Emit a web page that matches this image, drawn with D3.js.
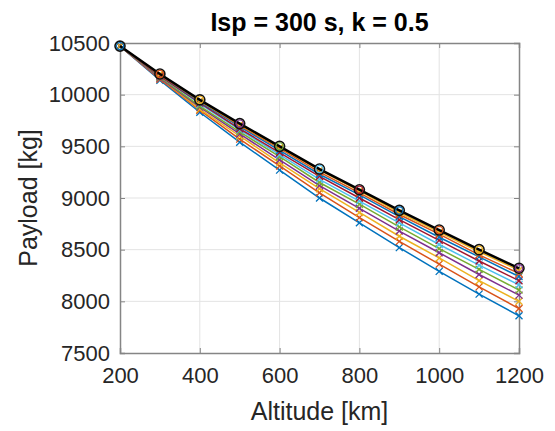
<!DOCTYPE html>
<html>
<head>
<meta charset="utf-8">
<script src="https://cdn.jsdelivr.net/npm/d3@7"></script>
<style>
  body { margin: 0; background: #fff; }
  text { font-family: "Liberation Sans", Arial, sans-serif; fill: #262626; }
</style>
</head>
<body>
<script>
var altitudes = [200, 300, 400, 500, 600, 700, 800, 900, 1000, 1100, 1200];

// colored curves, bottom to top
var seriesValues = [
  [10470, 10140, 9830, 9540, 9270, 9000, 8760, 8520, 8290, 8070, 7860],
  [10470, 10150, 9850, 9570, 9310, 9050, 8810, 8580, 8360, 8140, 7930],
  [10470, 10160, 9860, 9600, 9340, 9090, 8860, 8630, 8420, 8200, 8000],
  [10470, 10160, 9880, 9620, 9370, 9120, 8900, 8680, 8470, 8260, 8060],
  [10470, 10170, 9890, 9640, 9400, 9150, 8940, 8720, 8510, 8310, 8110],
  [10470, 10180, 9910, 9660, 9420, 9180, 8970, 8760, 8550, 8350, 8160],
  [10470, 10180, 9920, 9670, 9440, 9210, 9000, 8790, 8590, 8390, 8200],
  [10470, 10190, 9930, 9690, 9460, 9230, 9030, 8820, 8620, 8430, 8240],
  [10470, 10190, 9940, 9700, 9480, 9250, 9050, 8840, 8650, 8450, 8270],
  [10470, 10200, 9940, 9710, 9490, 9270, 9070, 8860, 8670, 8480, 8300]
];

// black envelope with circle markers
var blackValues = [10470, 10200, 9950, 9720, 9500, 9280, 9080, 8880, 8690, 8500, 8320];

var colorOrder = ['#0072BD', '#D95319', '#EDB120', '#7E2F8E', '#77AC30', '#4DBEEE', '#A2142F'];

var xTicks = [200, 400, 600, 800, 1000, 1200];
var yTicks = [7500, 8000, 8500, 9000, 9500, 10000, 10500];

var titleText = 'Isp = 300 s, k = 0.5';
var xLabel = 'Altitude [km]';
var yLabel = 'Payload [kg]';

var width = 555, height = 431;
var margin = {left: 120, right: 36, top: 43, bottom: 78};

var svg = d3.select('body').append('svg')
  .attr('width', width)
  .attr('height', height);

var x = d3.scaleLinear().domain([200, 1200]).range([margin.left, width - margin.right]);
var y = d3.scaleLinear().domain([7500, 10500]).range([height - margin.bottom, margin.top]);

// grid
svg.append('g').selectAll('line').data(xTicks.slice(1, -1))
  .enter().append('line')
    .attr('x1', function(d){return x(d);})
    .attr('x2', function(d){return x(d);})
    .attr('y1', y(7500))
    .attr('y2', y(10500))
    .style('stroke', '#e3e3e3')
    .style('stroke-width', 1);

svg.append('g').selectAll('line').data(yTicks.slice(1, -1))
  .enter().append('line')
    .attr('x1', x(200))
    .attr('x2', x(1200))
    .attr('y1', function(d){return y(d);})
    .attr('y2', function(d){return y(d);})
    .style('stroke', '#e3e3e3')
    .style('stroke-width', 1);

// axes (ticks inside, MATLAB style)
var xAxis = svg.append('g')
  .attr('transform', 'translate(0,' + y(7500) + ')')
  .call(d3.axisBottom(x).tickValues(xTicks).tickSize(-5).tickPadding(14).tickFormat(d3.format('d')));
var xAxisTop = svg.append('g')
  .attr('transform', 'translate(0,' + y(10500) + ')')
  .call(d3.axisTop(x).tickValues(xTicks).tickSize(-5).tickFormat(''));
var yAxis = svg.append('g')
  .attr('transform', 'translate(' + x(200) + ',0)')
  .call(d3.axisLeft(y).tickValues(yTicks).tickSize(-5).tickPadding(10).tickFormat(d3.format('d')));
var yAxisRight = svg.append('g')
  .attr('transform', 'translate(' + x(1200) + ',0)')
  .call(d3.axisRight(y).tickValues(yTicks).tickSize(-5).tickFormat(''));

[xAxis, xAxisTop, yAxis, yAxisRight].forEach(function(a){
  a.select('.domain').style('stroke', '#858585').style('stroke-width', 1.5);
  a.selectAll('.tick line').style('stroke', '#858585').style('stroke-width', 1);
  a.selectAll('.tick text').style('font-size', '22px').style('fill', '#262626')
    .style('font-family', '"Liberation Sans", Arial, sans-serif');
});
xAxis.selectAll('.tick text').attr('dy', '0.71em');

var line = d3.line()
  .x(function(d, i){return x(altitudes[i]);})
  .y(function(d){return y(d);});

// colored curves with x markers
seriesValues.forEach(function(vals, s){
  var c = colorOrder[s % colorOrder.length];
  svg.append('path')
    .datum(vals)
    .attr('d', line)
    .style('fill', 'none')
    .style('stroke', c)
    .style('stroke-width', 1.5);
  svg.append('g').selectAll('path').data(vals)
    .enter().append('path')
      .attr('d', function(d, i){
        var cx = x(altitudes[i]), cy = y(d), r = 3.5;
        return 'M' + (cx - r) + ',' + (cy - r) + 'L' + (cx + r) + ',' + (cy + r) +
               'M' + (cx - r) + ',' + (cy + r) + 'L' + (cx + r) + ',' + (cy - r);
      })
      .style('stroke', c)
      .style('stroke-width', 1.3)
      .style('fill', 'none');
});

// black envelope
svg.append('path')
  .datum(blackValues)
  .attr('d', line)
  .style('fill', 'none')
  .style('stroke', '#000')
  .style('stroke-width', 2.5);

svg.append('g').selectAll('circle').data(blackValues)
  .enter().append('circle')
    .attr('cx', function(d, i){return x(altitudes[i]);})
    .attr('cy', function(d){return y(d);})
    .attr('r', 5)
    .style('fill', 'none')
    .style('stroke', '#111')
    .style('stroke-width', 1.6);

svg.append('g').selectAll('circle').data(blackValues)
  .enter().append('circle')
    .attr('cx', function(d, i){return x(altitudes[i]);})
    .attr('cy', function(d){return y(d);})
    .attr('r', 3.6)
    .style('fill', 'none')
    .style('stroke', function(d, i){return colorOrder[i % colorOrder.length];})
    .style('stroke-width', 1.2);

// labels
svg.append('text')
  .attr('x', (x(200) + x(1200)) / 2)
  .attr('y', 31)
  .attr('text-anchor', 'middle')
  .style('font-size', '25px')
  .style('font-weight', 'bold')
  .style('fill', '#000')
  .text(titleText);

svg.append('text')
  .attr('x', (x(200) + x(1200)) / 2)
  .attr('y', 420)
  .attr('text-anchor', 'middle')
  .style('font-size', '25px')
  .text(xLabel);

svg.append('text')
  .attr('transform', 'translate(37,' + (y(7500) + y(10500)) / 2 + ') rotate(-90)')
  .attr('text-anchor', 'middle')
  .style('font-size', '25px')
  .text(yLabel);
</script>
</body>
</html>
